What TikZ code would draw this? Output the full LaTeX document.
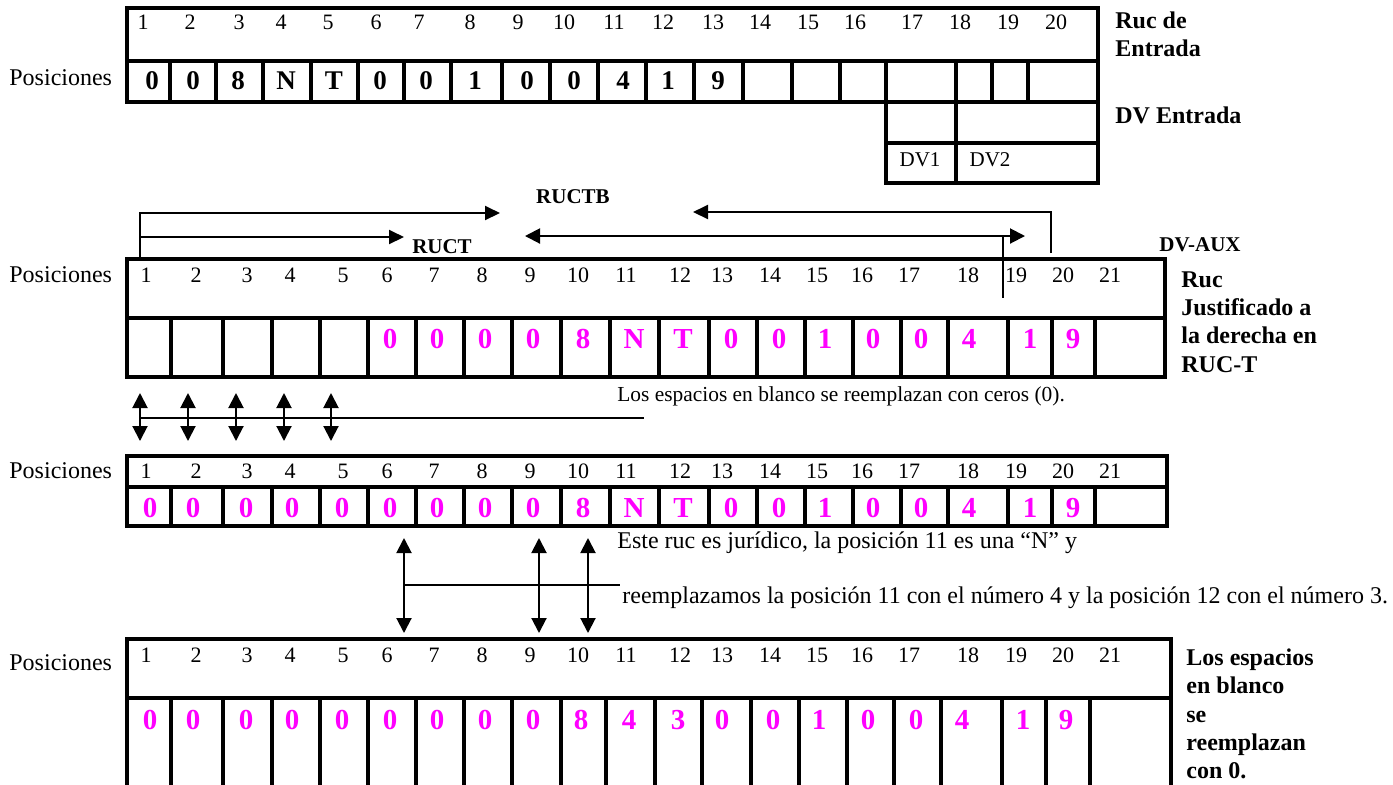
\documentclass[tikz,border=0pt]{standalone}
\usepackage{fontspec}
\setmainfont{Liberation Serif}
\usetikzlibrary{arrows.meta}
\definecolor{rosa}{RGB}{255,0,255}

\begin{document}
\begin{tikzpicture}[x=0.5pt,y=-0.5pt]
	\tikzstyle{tabla} = [line width=2pt]
	\tikzstyle{raya} = [line width=0.8pt]
	\tikzstyle{flecha} = [line width=1pt,-{Triangle[length=7.5pt,width=7pt]}]
	\tikzstyle{doble} = [line width=1pt,{Triangle[length=7.5pt,width=7.5pt]}-{Triangle[length=7.5pt,width=7.5pt]}]
	\tikzstyle{posic} = [inner sep=0pt,anchor=west,font=\fontsize{12}{14}\selectfont]
	\tikzstyle{num} = [inner sep=0pt,font=\fontsize{11}{13}\selectfont]
	\tikzstyle{dig} = [inner sep=0pt,font=\fontsize{13.5}{15}\selectfont\bfseries]
	\tikzstyle{dig2} = [inner sep=0pt,text=rosa,font=\fontsize{14.5}{16}\selectfont\bfseries]
	\tikzstyle{etiq} = [inner sep=0pt,anchor=west,align=left,font=\fontsize{12}{14.2}\selectfont\bfseries]
	\tikzstyle{etiq2} = [inner sep=0pt,font=\fontsize{10.5}{12}\selectfont\bfseries]
	\tikzstyle{nota} = [inner sep=0pt,anchor=west,font=\fontsize{12}{14}\selectfont]

	\useasboundingbox (0,0) rectangle (1393,784);
	\clip (0,0) rectangle (1393,784);

	% Ruc de entrada
	\draw[tabla] (127,8) rectangle (1098,102);
	\draw[tabla] (127,61) -- (1098,61);
	\foreach \x in {170,216,263,311,358,404,451,502,550,598,646,694,743,792,840,886,956,992,1028}
		\draw[tabla] (\x,61) -- (\x,102);
	\foreach \x [count=\i] in {143,190,239,281,328,376,419,470,518,564,614,663,713,760,808,855,912,960,1008,1056}
		\node[num] (n1-\i) at (\x,22) {\i};
	\foreach \x/\d [count=\i] in {152/0,193/0,238/8,286/N,334/T,380/0,426/0,475/1,527/0,574/0,623/4,668/1,718/9}
		\node[dig] (d1-\i) at (\x,81) {\d};
	% DV entrada
	\draw[tabla] (886,102) rectangle (1098,183);
	\draw[tabla] (886,143) -- (1098,143);
	\draw[tabla] (956,102) -- (956,183);
	\node[num,font=\fontsize{10.5}{12}\selectfont] (dv1) at (920,160) {DV1};
	\node[num,font=\fontsize{10.5}{12}\selectfont] (dv2) at (990,160) {DV2};
	\node[etiq] (ruce) at (1115,34) {Ruc de\\Entrada};
	\node[etiq] (dve) at (1115,115) {DV Entrada};

	% Ruc justificado
	\draw[tabla] (127,259) rectangle (1165,377);
	\draw[tabla] (127,318) -- (1165,318);
	\foreach \x in {171,223,272,320,368,416,464,512,561,610,659,709,757,805,853,901,948,1008,1052,1095}
		\draw[tabla] (\x,318) -- (\x,377);
	\foreach \x [count=\i] in {146,196,247,290,343,387,434,482,530,578,626,680,722,770,817,862,909,968,1016,1063,1110}
		\node[num] (n2-\i) at (\x,275) {\i};
	\foreach \x/\d [count=\i] in {390/0,437/0,485/0,533/0,583/8,634/N,683/T,731/0,779/0,825/1,873/0,921/0,969/4,1030/1,1073/9}
		\node[dig2] (d2-\i) at (\x,339) {\d};
	\node[etiq] (rucj) at (1181,322) {Ruc\\Justificado a\\la derecha en\\RUC-T};

	% flechas RUCT / RUCTB
	\coordinate (a1) at (140,259);
	\coordinate (a2) at (500,213);
	\coordinate (a3) at (140,237);
	\coordinate (a4) at (404,237);
	\coordinate (a5) at (525,236);
	\coordinate (a6) at (1025,236);
	\coordinate (a7) at (1003,236);
	\coordinate (a8) at (1003,298);
	\coordinate (a9) at (1051,253);
	\coordinate (a10) at (693,212);
	\draw[flecha] (a1) |- (a2);
	\draw[flecha] (a3) -- (a4);
	\draw[doble] (a5) -- (a6);
	\draw[raya] (a7) -- (a8);
	\draw[flecha] (a9) |- (a10);
	\node[etiq2] (ructb) at (573,197) {RUCTB};
	\node[etiq2] (ruct) at (442,247) {RUCT};
	\node[etiq2] (dvaux) at (1200,245) {DV-AUX};
	\node[nota,font=\fontsize{10.7}{12}\selectfont] (t1) at (617,396) {Los espacios en blanco se reemplazan con ceros (0).};

	\foreach \x [count=\i] in {140,188,236,284,331} {
		\coordinate (b\i) at (\x,393);
		\coordinate (c\i) at (\x,441);
		\draw[doble] (b\i) -- (c\i);
	}
	\coordinate (h1) at (140,418);
	\coordinate (h2) at (644,418);
	\draw[raya] (h1) -- (h2);

	% Ruc con ceros
	\draw[tabla] (127,456) rectangle (1167,526);
	\draw[tabla] (127,487) -- (1167,487);
	\foreach \x in {171,223,272,320,368,416,464,512,561,610,659,709,757,805,853,901,948,1008,1052,1095}
		\draw[tabla] (\x,487) -- (\x,526);
	\foreach \x [count=\i] in {146,196,247,290,343,387,434,482,530,578,626,680,722,770,817,862,909,968,1016,1063,1110}
		\node[num] (n3-\i) at (\x,471) {\i};
	\foreach \x/\d [count=\i] in {150/0,193/0,246/0,292/0,342/0,390/0,437/0,485/0,533/0,583/8,634/N,683/T,731/0,779/0,825/1,873/0,921/0,969/4,1030/1,1073/9}
		\node[dig2] (d3-\i) at (\x,508) {\d};
	\node[nota] (t2) at (617,543) {Este ruc es jurídico, la posición 11 es una “N” y};
	\node[nota] (t3) at (622,598) {reemplazamos la posición 11 con el número 4 y la posición 12 con el número 3.};

	\foreach \x [count=\i] in {404,539,588} {
		\coordinate (e\i) at (\x,538);
		\coordinate (f\i) at (\x,633);
		\draw[doble] (e\i) -- (f\i);
	}
	\coordinate (h3) at (404,585);
	\coordinate (h4) at (620,585);
	\draw[raya] (h3) -- (h4);

	% Ruc final
	\draw[tabla] (127,639) rectangle (1171,800);
	\draw[tabla] (127,698) -- (1171,698);
	\foreach \x in {171,223,272,320,368,416,464,512,561,606,655,702,751,799,847,894,941,1002,1046,1090}
		\draw[tabla] (\x,698) -- (\x,800);
	\foreach \x [count=\i] in {146,196,247,290,343,387,434,482,530,578,626,680,722,770,817,862,909,968,1016,1063,1110}
		\node[num] (n4-\i) at (\x,655) {\i};
	\foreach \x/\d [count=\i] in {150/0,193/0,246/0,292/0,342/0,390/0,437/0,485/0,533/0,581/8,629/4,678/3,722/0,773/0,819/1,868/0,916/0,962/4,1023/1,1066/9}
		\node[dig2] (d4-\i) at (\x,720) {\d};
	\node[etiq] (rucf) at (1186,714) {Los espacios\\en blanco\\se\\reemplazan\\con 0.};

	\foreach \y [count=\i] in {78,275,471,663}
		\node[posic] (pos\i) at (9,\y) {Posiciones};
\end{tikzpicture}
\end{document}
